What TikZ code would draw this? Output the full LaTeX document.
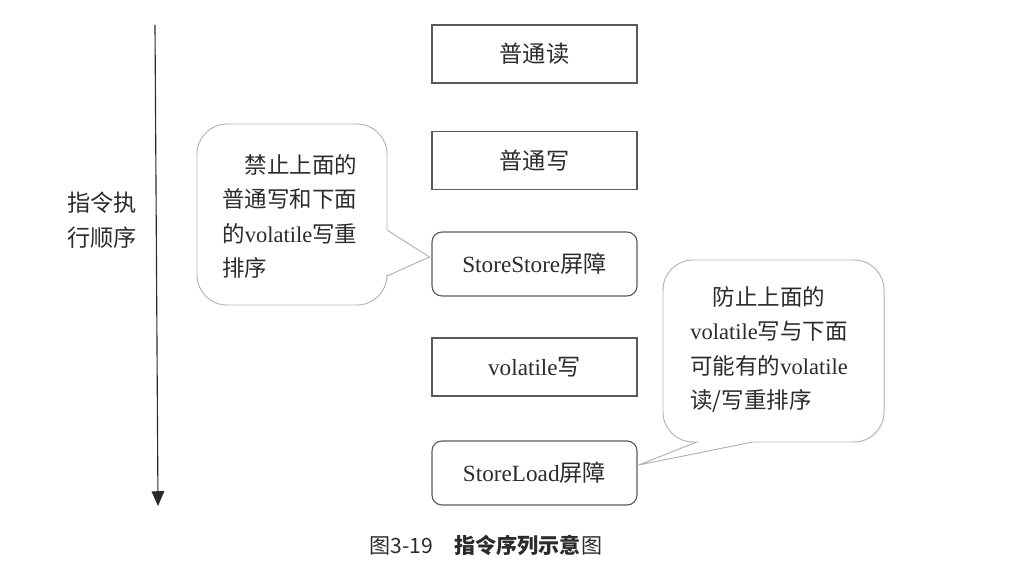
\documentclass[tikz,border=0pt]{standalone}
\usepackage{fontspec}
\setmainfont{Liberation Serif}
\newfontfamily\cjk{Noto Sans CJK SC}
\usepackage{tikz}
\usetikzlibrary{positioning,arrows.meta,calc}
\definecolor{boxgray}{HTML}{5A5A5A}
\definecolor{bubgray}{HTML}{B4B4B4}
\definecolor{ink}{HTML}{2B2B2B}

\begin{document}
\begin{tikzpicture}[
  x=0.025cm,y=-0.025cm,
  box/.style={draw=boxgray,line width=0.8pt,minimum width=5.125cm,minimum height=1.45cm,
    inner sep=0pt,text=ink,font=\fontsize{16.5}{20}\selectfont},
  bar/.style={box,rounded corners=0.25cm,minimum height=1.6cm},
  bubble/.style={draw=bubgray,line width=0.7pt},
  note/.style={anchor=north west,inner sep=0pt,align=left,text=ink,
    font=\cjk\fontsize{16}{24.5}\selectfont}
]
\useasboundingbox (0,0) rectangle (1021,585);

% --- execution order axis ---
\coordinate (top) at (155,25);
\coordinate (bot) at (158,506);
\draw[-{Triangle[width=9pt,length=10.5pt]},ink,line width=0.8pt] (top) -- (bot);
\node[text=ink,align=center,font=\cjk\fontsize{16.5}{24.5}\selectfont] (order) at (102,220) {指令执\\行顺序};

% --- instruction sequence ---
\node[box] (nr) at (534.5,54)  {\cjk 普通读};
\node[box] (nw) at (534.5,160.5) {\cjk 普通写};
\node[bar] (ss) at (534.5,264) {StoreStore{\cjk 屏障}};
\node[box] (vw) at (534.5,367) {volatile{\cjk 写}};
\node[bar] (sl) at (534.5,473) {StoreLoad{\cjk 屏障}};

% --- left bubble: points at StoreStore ---
\draw[bubble,rounded corners=0.75cm] (197,215) -- (197,124) -- (387,124)
  [sharp corners] -- (387,230) -- ($(ss.west)+(-2,-7)$) -- (387,276)
  [rounded corners=0.75cm] -- (387,305) -- (197,305) -- cycle;
\node[note] (lnote) at (222,154) {\hspace*{1em}禁止上面的\\普通写和下面\\的{\rmfamily volatile}写重\\排序};

% --- right bubble: points at StoreLoad ---
\draw[bubble,rounded corners=0.75cm] (663,350) -- (663,260) -- (884,260) -- (884,442)
  [sharp corners] -- (753,442) -- ($(sl.east)+(1,-8)$) -- (697,442)
  [rounded corners=0.75cm] -- (663,442) -- cycle;
\node[note] (rnote) at (690,286) {\hspace*{1em}防止上面的\\{\rmfamily volatile}写与下面\\可能有的{\rmfamily volatile}\\读/写重排序};

% --- caption ---
\node[text=ink,font=\cjk\fontsize{15}{18}\selectfont] (cap) at (486,545) {图3-19\hspace{1em}{\bfseries 指令序列示意}图};
\end{tikzpicture}
\end{document}
